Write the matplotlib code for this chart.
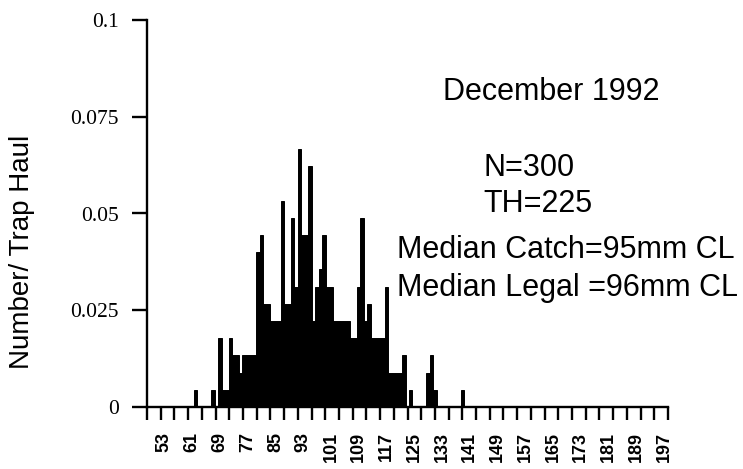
import numpy as np
import matplotlib
matplotlib.use("Agg")
import matplotlib.pyplot as plt

# carapace length (mm) and number of lobsters caught in each 1 mm class
length_mm = [62, 67, 69, 70, 71, 72, 73, 74, 75, 76, 77, 78, 79, 80,
             81, 82, 83, 84, 85, 86, 87, 88, 89, 90, 91, 92, 93, 94,
             95, 96, 97, 98, 99, 100, 101, 102, 103, 104, 105, 106, 107, 108,
             109, 110, 111, 112, 113, 114, 115, 116, 117, 118, 119, 120, 121, 122,
             124, 129, 130, 131, 139]
catch = [1, 1, 4, 1, 1, 4, 3, 3, 2, 3, 3, 3, 3, 9,
         10, 6, 6, 5, 5, 5, 12, 6, 6, 11, 7, 15, 10, 10,
         14, 5, 7, 8, 10, 7, 7, 5, 5, 5, 5, 5, 4, 4,
         7, 11, 5, 6, 4, 4, 4, 4, 7, 2, 2, 2, 2, 3,
         1, 2, 3, 1, 1]
trap_hauls = 225

y_ticks = [0, 0.025, 0.05, 0.075, 0.1]
y_ticklabels = ["0", "0.025", "0.05", "0.075", "0.1"]
x_labels = list(range(53, 198, 8))

per_haul = np.array(catch) / trap_hauls

W, H = 743, 469
fig = plt.figure(figsize=(W / 100, H / 100), dpi=100)
ax = fig.add_axes([147 / W, 62 / H, 521 / W, 387 / H])

ax.bar(length_mm, per_haul, width=1.0, color="black", edgecolor="black", linewidth=0.7)

ax.set_xlim(48, 198.15)
ax.set_ylim(0, 0.1)

for s in ["top", "right"]:
    ax.spines[s].set_visible(False)
for s in ["left", "bottom"]:
    ax.spines[s].set_linewidth(1.7)

# y axis
ax.set_yticks(y_ticks)
ax.set_yticklabels(y_ticklabels, family="Liberation Serif", fontsize=15.5)
ax.tick_params(axis="y", direction="out", length=10.5, width=1.7, pad=10)

# x axis: tick marks every 4 mm, labels every 8 mm
ax.set_xticks(np.linspace(48, 198.15, 39))
ax.set_xticklabels([])
ax.tick_params(axis="x", which="major", direction="out", length=9, width=1.7)
ax.set_xticks(x_labels, minor=True)
ax.set_xticklabels([str(v) for v in x_labels], minor=True, rotation=90,
                   family="Liberation Sans", fontweight="bold", fontsize=13)
ax.tick_params(axis="x", which="minor", length=0, pad=18)

fig.text(22 / W, 1 - 252 / H, "Number/ Trap Haul", rotation=90, ha="center",
         va="center", family="Liberation Sans", fontsize=20)

txt = dict(family="Liberation Sans", fontsize=22, va="baseline")
fig.text(551 / W, 1 - 100 / H, "December 1992", ha="center", **txt)
fig.text(483 / W, 1 - 176 / H, "N=300", ha="left", **txt)
fig.text(483 / W, 1 - 212 / H, "TH=225", ha="left", **txt)
fig.text(397 / W, 1 - 258 / H, "Median Catch=95mm CL", ha="left", **txt)
fig.text(397 / W, 1 - 296 / H, "Median Legal =96mm CL", ha="left", **txt)

fig.savefig("out.png", dpi=100)
